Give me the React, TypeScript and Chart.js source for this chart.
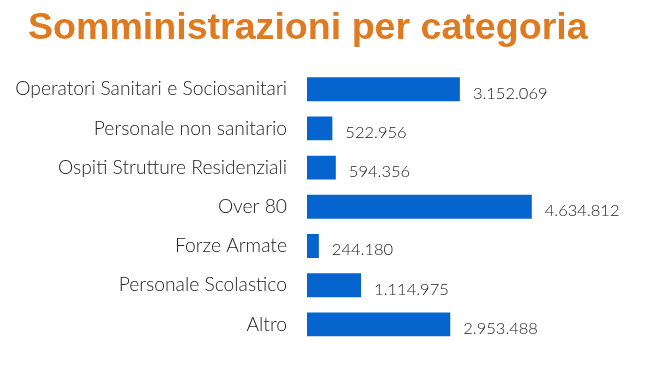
import React, { useEffect, useRef } from "react";
import { Chart, registerables } from "chart.js";

Chart.register(...registerables);

const TITLE = "Somministrazioni per categoria";
const categories = [
  "Operatori Sanitari e Sociosanitari",
  "Personale non sanitario",
  "Ospiti Strutture Residenziali",
  "Over 80",
  "Forze Armate",
  "Personale Scolastico",
  "Altro",
];
const values = [3152069, 522956, 594356, 4634812, 244180, 1114975, 2953488];
const X_MAX = 6000000;

const fmt = (v: number) => String(v).replace(/\B(?=(\d{3})+(?!\d))/g, ".");

const valueLabels = {
  id: "valueLabels",
  afterLayout(chart: any) {
    // let long category labels extend past the left padding without being clipped
    chart.scales.y.left = 0;
  },
  afterDatasetsDraw(chart: any) {
    const ctx = chart.ctx;
    const meta = chart.getDatasetMeta(0);
    ctx.save();
    ctx.font = "300 16.5px Lato";
    ctx.fillStyle = "#222222";
    ctx.textAlign = "left";
    ctx.textBaseline = "middle";
    meta.data.forEach((bar: any, i: number) => {
      ctx.fillText(fmt(values[i]), bar.x + 13, bar.y + 4);
    });
    ctx.restore();
  },
};

export default function App() {
  const ref = useRef<HTMLCanvasElement | null>(null);
  useEffect(() => {
    document.body.style.margin = "0";
    const chart = new Chart(ref.current as HTMLCanvasElement, {
      type: "bar",
      data: {
        labels: categories,
        datasets: [
          {
            data: values,
            backgroundColor: "#0664CE",
            borderWidth: 0,
            barPercentage: 0.61,
            categoryPercentage: 1,
          },
        ],
      },
      options: {
        indexAxis: "y",
        responsive: true,
        maintainAspectRatio: false,
        animation: false,
        layout: { padding: { left: 28, right: 60, top: 0, bottom: 34 } },
        plugins: {
          legend: { display: false },
          tooltip: { enabled: false },
          title: {
            display: true,
            text: TITLE,
            align: "start",
            color: "#E07A20",
            font: { family: "'Liberation Sans', Arial, sans-serif", size: 37.6, weight: "bold", lineHeight: 1.2 },
            padding: { top: 6, bottom: 18.5 },
          },
        },
        scales: {
          x: { display: false, min: 0, max: X_MAX },
          y: {
            grid: { display: false, drawTicks: false },
            border: { display: false },
            ticks: {
              color: "#222222",
              padding: 20,
              font: { family: "Lato", size: 19.3, weight: "300" },
            },
            afterFit(scale: any) {
              scale.width = 279;
            },
          },
        },
      },
      plugins: [valueLabels],
    } as any);
    return () => chart.destroy();
  }, []);
  return (
    <div style={{ position: "relative", width: 658, height: 378 }}>
      <canvas ref={ref} />
    </div>
  );
}
